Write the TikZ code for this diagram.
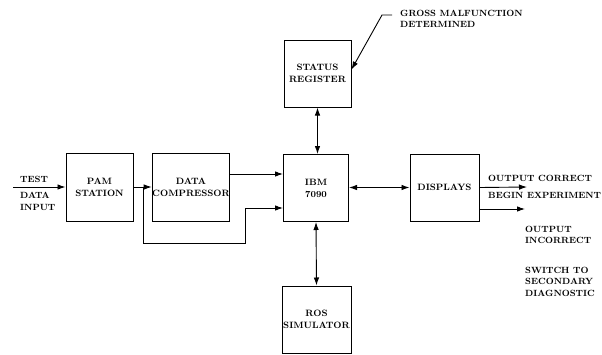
\documentclass[tikz,border=0pt]{standalone}
\usetikzlibrary{arrows.meta}
\begin{document}
\begin{tikzpicture}[x=1pt, y=-1pt,
        block/.style={draw, line width=1pt, inner sep=0pt, align=center, font=\fontsize{9.2}{12}\selectfont\bfseries},
        lbl/.style={inner sep=0pt, align=left, font=\fontsize{9}{11.5}\selectfont\bfseries},
        arr/.style={line width=0.9pt, -{Latex[length=8pt,width=5.5pt]}},
        dblarr/.style={line width=0.9pt, {Latex[length=8pt,width=5.5pt]}-{Latex[length=8pt,width=5.5pt]}}]
        \useasboundingbox (0,0) rectangle (602,354);

        % Blocks
        \node[block, minimum width=67pt, minimum height=68pt] (pam) at (99.5,187) {PAM\\STATION};
        \node[block, minimum width=75pt, minimum height=68pt] (comp) at (191,187) {DATA\\COMPRESSOR};
        \node[block, minimum width=65pt, minimum height=67pt] (ibm) at (316,188) {IBM\\7090};
        \node[block, minimum width=67pt, minimum height=67pt] (status) at (317.5,73.5) {STATUS\\REGISTER};
        \node[block, minimum width=69pt, minimum height=67pt] (disp) at (444.5,187.5) {DISPLAYS};
        \node[block, minimum width=69pt, minimum height=67pt] (ros) at (316.5,319.5) {ROS\\SIMULATOR};

        % Input side
        \coordinate (in) at (13,187);
        \draw[arr] (in) -- (pam.west);
        \node[lbl, anchor=south west] (test) at (20,183) {TEST};
        \node[lbl, anchor=north west] (datain) at (20,192) {DATA\\INPUT};

        % Data paths into the 7090
        \coordinate (br) at (143,187);
        \coordinate (bend) at (245,243);
        \draw[arr] (pam.east) -- (comp.west);
        \draw[arr] ([yshift=13pt]comp.east) -- ([yshift=13pt]comp.east -| ibm.west);
        \draw[arr] (br) |- (bend) |- ([yshift=-20pt]ibm.west);

        % Links of the 7090
        \draw[dblarr] (status.south |- ibm.north) -- (status.south);
        \draw[dblarr] (ibm.south) -- (ros.north);
        \draw[dblarr] (ibm.east |- disp.west) -- (disp.west);

        % Status note
        \coordinate (gmend) at (392,15);
        \coordinate (gmbend) at (382,15);
        \draw[arr] (gmend) -- (gmbend) -- ([yshift=4pt]status.east);
        \node[lbl, anchor=north west] (gross) at (400,9.5) {GROSS MALFUNCTION\\DETERMINED};

        % Outputs
        \coordinate (ok) at (527,187);
        \coordinate (bad) at (525,209);
        \draw[arr] (disp.east) -- (ok);
        \draw[arr] (disp.east |- bad) -- (bad);
        \node[lbl, anchor=south west] (outok) at (488,181.5) {OUTPUT CORRECT};
        \node[lbl, anchor=north west] (begin) at (488,192) {BEGIN EXPERIMENT};
        \node[lbl, anchor=north west] (outbad) at (525,226) {OUTPUT\\INCORRECT};
        \node[lbl, anchor=north west] (switch) at (525,267) {SWITCH TO\\SECONDARY\\DIAGNOSTIC};
    \end{tikzpicture}
\end{document}
